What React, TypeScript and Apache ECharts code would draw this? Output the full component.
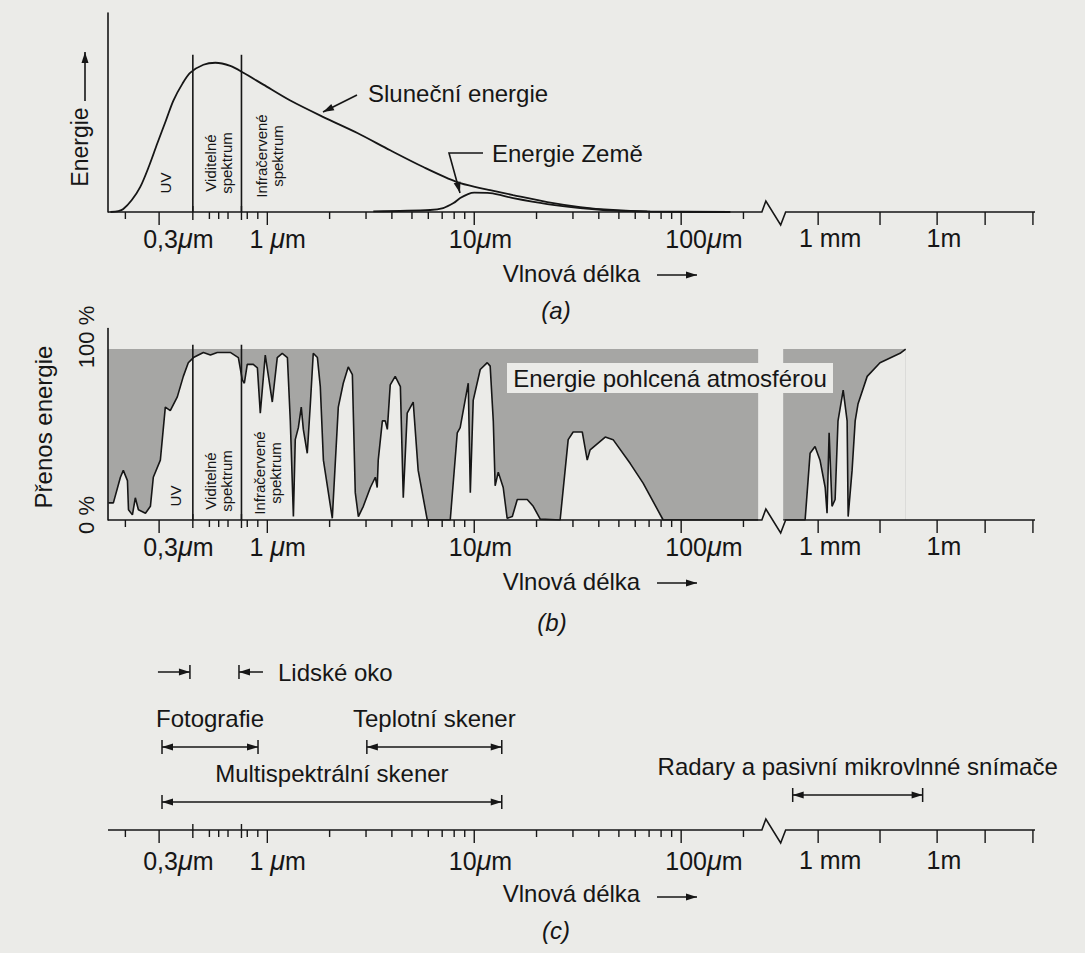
import React, { useEffect, useRef } from 'react';
import * as echarts from 'echarts';

const FONT = '"Liberation Sans", Arial, Helvetica, sans-serif';
const PAPER = '#ebebe8';
const INK = '#161616';
const SHADE = '#a6a6a4';

// x: position on the schematic wavelength scale (decades; log10 of λ in μm left of the break)
const X_MIN = -0.77;
const X_MAX = 3.71;
const AXIS_BREAK = [2.39, 2.505];

const tickLabels = ['0,3μm', '1 μm', '10μm', '100μm', '1 mm', '1m'];
const tickLabelPositions = [-0.43, 0.05, 1.03, 2.11, 2.72, 3.27];
const minorTicks = [-0.686, -0.28, -0.235, -0.19, -0.097, -0.046, 0.301, 0.477, 0.602, 0.699, 0.778, 0.845, 0.903, 0.954, 1.301, 1.477, 1.602, 1.699, 1.778, 1.845, 1.903, 1.954, 2.301];
const majorTicks = [-0.523, 0, 1, 2, 2.662, 2.961, 3.237, 3.469, 3.7];
const visibleBandEdges = [-0.36, -0.125]; // 0,4 μm and 0,7 μm

// (a) relative energy
const solarEnergy = [
  [-0.758, 0], [-0.72, 0.5], [-0.696, 1.5], [-0.655, 6], [-0.614, 12.6], [-0.572, 23], [-0.531, 34.7],
  [-0.49, 46], [-0.454, 56], [-0.41, 64.5], [-0.372, 70], [-0.309, 74], [-0.251, 75], [-0.179, 73.4],
  [-0.116, 70], [-0.019, 64], [0.111, 56], [0.271, 47.7], [0.435, 39.7], [0.594, 31], [0.754, 22.6],
  [0.918, 15], [1.029, 12], [1.077, 11], [1.188, 8.5], [1.353, 5], [1.512, 2.5], [1.671, 1],
  [1.836, 0.3], [2.237, 0],
];
const earthEnergy = [
  [0.512, 0.3], [0.787, 1], [0.85, 2], [0.9, 4.5], [0.932, 7], [0.97, 9], [1.0, 9.7], [1.077, 9.5],
  [1.188, 7], [1.353, 4], [1.512, 2], [1.671, 0.7], [1.85, 0.2], [2.237, 0],
];

// (b) atmospheric transmission, %
const transmissionLeft = [
  [-0.768, 10], [-0.744, 10], [-0.71, 25], [-0.696, 29], [-0.676, 23], [-0.671, 6], [-0.652, 3], [-0.638, 13],
  [-0.623, 6], [-0.589, 4], [-0.565, 8], [-0.551, 25], [-0.517, 35], [-0.493, 66], [-0.469, 64], [-0.435, 72],
  [-0.406, 84], [-0.382, 92], [-0.357, 95], [-0.309, 98], [-0.275, 96.5], [-0.242, 98], [-0.179, 98],
  [-0.14, 95], [-0.121, 82], [-0.111, 80], [-0.097, 91], [-0.068, 91], [-0.048, 89], [-0.034, 62.5],
  [-0.01, 96.5], [0.024, 69], [0.048, 95], [0.072, 97.5], [0.097, 95], [0.111, 58], [0.126, 2], [0.135, 47],
  [0.15, 54], [0.164, 66], [0.174, 53], [0.193, 39], [0.208, 68], [0.222, 97.5], [0.242, 95], [0.256, 78],
  [0.271, 35], [0.314, 1], [0.343, 66], [0.367, 80], [0.391, 89.5], [0.411, 85], [0.425, 16], [0.44, 2],
  [0.464, 8], [0.498, 19], [0.522, 25], [0.531, 19], [0.536, 35], [0.556, 58], [0.57, 58], [0.58, 53],
  [0.594, 79], [0.618, 84], [0.643, 78], [0.657, 13], [0.676, 62.5], [0.705, 69], [0.729, 29], [0.773, 0],
  [0.884, 0], [0.918, 51], [0.932, 54], [0.971, 80], [0.981, 16], [0.995, 70], [1.029, 88], [1.063, 92],
  [1.077, 90], [1.092, 58], [1.101, 20], [1.116, 28], [1.14, 19], [1.159, 1], [1.184, 2], [1.208, 12],
  [1.256, 12], [1.285, 8], [1.319, 0.5], [1.415, 0], [1.454, 47], [1.478, 51.5], [1.522, 51.5], [1.546, 35],
  [1.56, 41], [1.633, 48.5], [1.671, 47], [1.754, 33], [1.816, 21.6], [1.913, 0], [2.372, 0],
];
const transmissionRight = [
  [2.493, 0], [2.599, 0], [2.623, 39], [2.647, 43], [2.671, 35], [2.696, 19], [2.705, 4], [2.715, 51],
  [2.729, 8], [2.744, 12], [2.758, 58], [2.783, 76], [2.802, 58], [2.807, 2], [2.826, 29], [2.841, 58],
  [2.855, 68], [2.899, 84], [2.961, 92], [3.058, 97.5], [3.085, 100],
];
const absorbedLeft = [[X_MIN, 100], [2.372, 100]];
const absorbedRight = [[2.493, 100], [3.085, 100]];

// (c) sensor ranges: [from, to, row]
const sensorNames = ['Lidské oko', 'Fotografie', 'Teplotní skener', 'Multispektrální skener', 'Radary a pasivní mikrovlnné snímače'];
const sensorRanges = [[-0.374, -0.137, 15.8], [-0.509, -0.045, 8.3], [0.481, 1.133, 8.3], [-0.509, 1.133, 2.8], [2.539, 3.167, 3.5]];

function head(x: number, y: number, ang: number, len = 11, half = 3.5) {
  const dx = Math.cos(ang), dy = Math.sin(ang);
  const bx = x - len * dx, by = y - len * dy;
  return [[x, y], [bx - half * dy, by + half * dx], [bx + half * dy, by - half * dx]];
}

function arrowEls(pts: number[][]) {
  const n = pts.length;
  const ang = Math.atan2(pts[n - 1][1] - pts[n - 2][1], pts[n - 1][0] - pts[n - 2][0]);
  return [
    { type: 'polyline', z: 100, shape: { points: pts }, style: { stroke: INK, lineWidth: 1.6, fill: null } },
    { type: 'polygon', z: 100, shape: { points: head(pts[n - 1][0], pts[n - 1][1], ang) }, style: { fill: INK } },
  ];
}

function txt(text: string, x: number, y: number, size: number, opts: any = {}) {
  return {
    type: 'text', z: 100, x, y, rotation: opts.rotation || 0,
    style: {
      text, fill: INK, fontSize: size, fontFamily: FONT, fontStyle: opts.italic ? 'italic' : 'normal',
      align: opts.align || 'center', verticalAlign: 'middle', lineHeight: opts.lineHeight,
    },
  };
}

const R = Math.PI / 2;

function buildOption() {
  const grids = [
    { left: 108, top: 13, width: 927, height: 199 },
    { left: 108, top: 328.5, width: 927, height: 191.5 },
    { left: 108, top: 640, width: 927, height: 190 },
  ];
  const yMax = [100, 112, 19];
  const xAxes = grids.map((_, g) => ({
    type: 'value', gridIndex: g, min: X_MIN, max: X_MAX,
    axisLine: { show: false, onZero: false }, axisTick: { show: false }, splitLine: { show: false },
    name: 'Vlnová délka', nameLocation: 'middle', nameGap: g === 2 ? 51 : 49,
    nameTextStyle: { fontSize: 24, fontFamily: FONT, color: INK },
    axisLabel: {
      customValues: tickLabelPositions,
      margin: g === 2 ? 17 : 13,
      fontSize: 25, fontFamily: FONT, color: INK,
      formatter: (v: number) => {
        let best = 0;
        tickLabelPositions.forEach((p, i) => { if (Math.abs(p - v) < Math.abs(tickLabelPositions[best] - v)) best = i; });
        return tickLabels[best].replace('μ', '{mu|μ}');
      },
      rich: { mu: { fontSize: 27, fontFamily: FONT, fontStyle: 'italic', color: INK } },
    },
  }));
  const yAxes = grids.map((_, g) => ({
    type: 'value', gridIndex: g, min: 0, max: yMax[g], show: g !== 2, z: 10, position: 'left',
    axisLine: { show: true, onZero: false, lineStyle: { color: INK, width: 1.6 } },
    axisTick: { show: false }, axisLabel: { show: false }, splitLine: { show: false },
  }));

  const series: any[] = [];
  [0, 1, 2].forEach((g) => {
    series.push({
      type: 'custom', xAxisIndex: g, yAxisIndex: g, z: 6, silent: true,
      data: [[X_MIN, AXIS_BREAK[0], AXIS_BREAK[1], X_MAX]],
      renderItem: (_p: any, api: any) => {
        const a = api.coord([api.value(0), 0]);
        const b = api.coord([api.value(1), 0]);
        const c = api.coord([api.value(2), 0]);
        const d = api.coord([api.value(3), 0]);
        return {
          type: 'polyline',
          shape: { points: [a, b, [b[0] + 4, b[1] - 11], [c[0] - 5, c[1] + 13], c, d] },
          style: { stroke: INK, lineWidth: 1.6, fill: null },
        };
      },
    });
    series.push({
      type: 'custom', xAxisIndex: g, yAxisIndex: g, z: 6, silent: true,
      data: [...minorTicks.map((u) => [u, 0]), ...majorTicks.map((u) => [u, 1]), ...visibleBandEdges.map((u) => [u, 2])],
      renderItem: (_p: any, api: any) => {
        const p = api.coord([api.value(0), 0]);
        const k = api.value(1);
        const y1 = k === 2 ? p[1] - 6 : p[1];
        const y2 = p[1] + (k === 0 ? 7 : k === 1 ? 13 : 8);
        return { type: 'line', shape: { x1: p[0], y1, x2: p[0], y2 }, style: { stroke: INK, lineWidth: 1.4 } };
      },
    });
  });

  // (a)
  series.push({
    type: 'line', xAxisIndex: 0, yAxisIndex: 0, data: solarEnergy, smooth: 0.3, symbol: 'none', z: 4,
    lineStyle: { color: INK, width: 1.8 },
  });
  series.push({
    type: 'line', xAxisIndex: 0, yAxisIndex: 0, data: earthEnergy, smooth: 0.3, symbol: 'none', z: 4,
    lineStyle: { color: INK, width: 1.8 },
  });
  // (b)
  [absorbedLeft, absorbedRight].forEach((d) => series.push({
    type: 'line', xAxisIndex: 1, yAxisIndex: 1, data: d, symbol: 'none', z: 2,
    lineStyle: { width: 0 }, areaStyle: { color: SHADE, opacity: 1 },
  }));
  [transmissionLeft, transmissionRight].forEach((d) => series.push({
    type: 'line', xAxisIndex: 1, yAxisIndex: 1, data: d, symbol: 'none', z: 3,
    lineStyle: { color: INK, width: 1.6 }, areaStyle: { color: PAPER, opacity: 1 },
  }));
  // visible band edges in (a) and (b)
  [[0, 79], [1, 102.5]].forEach(([g, top]) => series.push({
    type: 'custom', xAxisIndex: g, yAxisIndex: g, z: 5, silent: true,
    data: visibleBandEdges.map((u) => [u, top]),
    renderItem: (_p: any, api: any) => {
      const p0 = api.coord([api.value(0), 0]);
      const p1 = api.coord([api.value(0), api.value(1)]);
      return { type: 'line', shape: { x1: p0[0], y1: p0[1], x2: p1[0], y2: p1[1] }, style: { stroke: INK, lineWidth: 1.6 } };
    },
  }));
  // (c) sensor ranges
  series.push({
    type: 'custom', xAxisIndex: 2, yAxisIndex: 2, z: 5, silent: true,
    data: sensorRanges,
    renderItem: (params: any, api: any) => {
      const i = params.dataIndex;
      const p1 = api.coord([api.value(0), api.value(2)]);
      const p2 = api.coord([api.value(1), api.value(2)]);
      const y = p1[1];
      const st = { stroke: INK, lineWidth: 1.5 };
      const bar = (x: number) => ({ type: 'line', shape: { x1: x, y1: y - 7, x2: x, y2: y + 7 }, style: st });
      const tri = (pts: number[][]) => ({ type: 'polygon', shape: { points: pts }, style: { fill: INK } });
      const children: any[] = [bar(p1[0]), bar(p2[0])];
      if (i === 0) {
        children.push(
          { type: 'line', shape: { x1: p1[0] - 32, y1: y, x2: p1[0], y2: y }, style: st },
          tri(head(p1[0], y, 0)),
          { type: 'line', shape: { x1: p2[0], y1: y, x2: p2[0] + 24, y2: y }, style: st },
          tri(head(p2[0], y, Math.PI)),
          { type: 'text', x: p2[0] + 39, y, style: { text: sensorNames[i], fill: INK, fontSize: 24, fontFamily: FONT, align: 'left', verticalAlign: 'middle' } },
        );
      } else {
        children.push(
          { type: 'line', shape: { x1: p1[0], y1: y, x2: p2[0], y2: y }, style: st },
          tri(head(p1[0], y, Math.PI)),
          tri(head(p2[0], y, 0)),
          { type: 'text', x: (p1[0] + p2[0]) / 2, y: y - 29, style: { text: sensorNames[i], fill: INK, fontSize: 24, fontFamily: FONT, align: 'center', verticalAlign: 'middle' } },
        );
      }
      return { type: 'group', children };
    },
  });

  const graphic: any[] = [
    // (a)
    txt('Energie', 80, 147, 23, { rotation: R }),
    ...arrowEls([[85, 101], [85, 52]]),
    txt('UV', 165, 183, 15, { rotation: R }),
    txt('Viditelné\nspektrum', 218, 163, 15, { rotation: R, lineHeight: 16 }),
    txt('Infračervené\nspektrum', 269, 156, 15, { rotation: R, lineHeight: 16 }),
    txt('Sluneční energie', 368, 93, 24, { align: 'left' }),
    ...arrowEls([[357, 95], [323, 112]]),
    txt('Energie Země', 492, 153, 24, { align: 'left' }),
    ...arrowEls([[483, 153], [449, 153], [460, 193]]),
    ...arrowEls([[657, 275], [697, 275]]),
    txt('(a)', 556, 310, 24, { italic: true }),
    // (b)
    txt('Přenos energie', 43, 427, 24, { rotation: R }),
    txt('100 %', 86, 337, 22, { rotation: R }),
    txt('0 %', 86, 515, 22, { rotation: R }),
    txt('UV', 175, 496, 15, { rotation: R }),
    txt('Viditelné\nspektrum', 218, 481, 15, { rotation: R, lineHeight: 16 }),
    txt('Infračervené\nspektrum', 267, 473, 15, { rotation: R, lineHeight: 16 }),
    { type: 'rect', z: 99, shape: { x: 507, y: 363, width: 326, height: 30 }, style: { fill: PAPER } },
    txt('Energie pohlcená atmosférou', 670, 378, 24),
    ...arrowEls([[657, 583], [697, 583]]),
    txt('(b)', 552, 622, 24, { italic: true }),
    // (c)
    ...arrowEls([[657, 897], [697, 897]]),
    txt('(c)', 556, 930, 24, { italic: true }),
  ];

  return {
    animation: false,
    backgroundColor: PAPER,
    textStyle: { fontFamily: FONT },
    grid: grids,
    xAxis: xAxes,
    yAxis: yAxes,
    series,
    graphic,
  };
}

export default function App() {
  const ref = useRef<HTMLDivElement>(null);
  useEffect(() => {
    document.body.style.margin = '0';
    document.body.style.background = PAPER;
    const chart = echarts.init(ref.current as HTMLDivElement, null, { renderer: 'svg' });
    chart.setOption(buildOption() as any);
    return () => chart.dispose();
  }, []);
  return <div ref={ref} style={{ width: 1085, height: 953, background: PAPER }} />;
}
